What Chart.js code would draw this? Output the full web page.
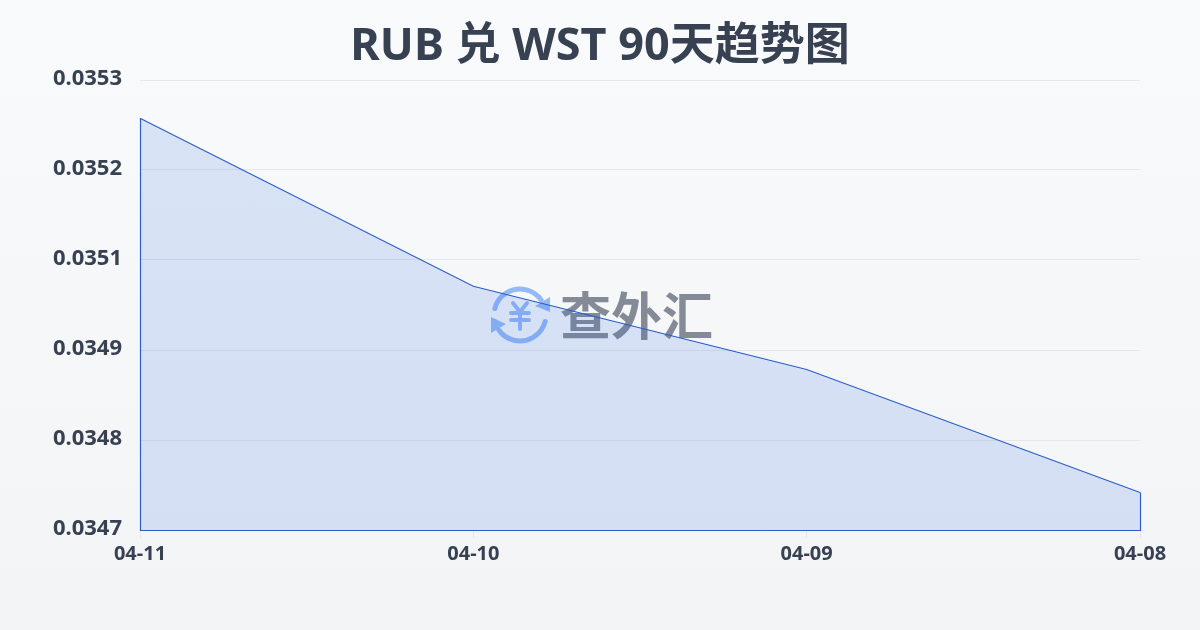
<!DOCTYPE html>
<html>
<head>
<meta charset="utf-8">
<style>
html, body { margin: 0; padding: 0; }
body { width: 1200px; height: 630px; overflow: hidden; background: linear-gradient(180deg, #f8fafc 0%, #f3f4f6 100%); }
#wrap { position: relative; width: 1200px; height: 630px; }
</style>
<script src="https://cdn.jsdelivr.net/npm/chart.js@4"></script>
</head>
<body>
<div id="wrap"><canvas id="myChart" width="1200" height="630"></canvas></div>
<script>
'use strict';

var dates = ['04-11', '04-10', '04-09', '04-08'];
var rates = [0.035249, 0.035025, 0.034914, 0.03475];
var yTicks = [0.0347, 0.03482, 0.03494, 0.03506, 0.03518, 0.0353];
var titleText = 'RUB 兑 WST 90天趋势图';
var watermarkText = '查外汇';

var fontFamily = '"Noto Sans", "Noto Sans CJK SC", sans-serif';
var textColor = '#374151';
var lineColor = '#2a5fcb';

// title is centred on the whole canvas, the plot is not
var titlePlugin = {
  id: 'pageTitle',
  afterDraw: function (chart) {
    var ctx = chart.ctx;
    ctx.save();
    ctx.fillStyle = textColor;
    ctx.font = 'bold 45px ' + fontFamily;
    ctx.textAlign = 'center';
    ctx.textBaseline = 'middle';
    ctx.fillText(titleText, chart.width / 2, 47);
    ctx.restore();
  }
};

// outline down the sides and along the bottom of the area
var outlinePlugin = {
  id: 'outline',
  afterDatasetsDraw: function (chart) {
    var pts = chart.getDatasetMeta(0).data;
    var first = pts[0];
    var last = pts[pts.length - 1];
    var base = chart.scales.y.getPixelForValue(yTicks[0]);
    var ctx = chart.ctx;
    ctx.save();
    ctx.strokeStyle = lineColor;
    ctx.lineWidth = 1.2;
    ctx.beginPath();
    ctx.moveTo(first.x + 0.5, first.y);
    ctx.lineTo(first.x + 0.5, base + 0.5);
    ctx.lineTo(last.x + 0.5, base + 0.5);
    ctx.lineTo(last.x + 0.5, last.y);
    ctx.stroke();
    ctx.restore();
  }
};

// logo and name in the middle of the plot, under the line
var watermarkPlugin = {
  id: 'watermark',
  beforeDatasetsDraw: function (chart) {
    var ctx = chart.ctx;
    var cx = 520;
    var cy = 315;
    ctx.save();
    ctx.strokeStyle = '#93b9f6';
    ctx.fillStyle = '#93b9f6';
    ctx.lineWidth = 5;
    ctx.lineCap = 'round';
    ctx.beginPath();
    ctx.arc(cx, cy, 26, Math.PI * 1.08, Math.PI * 1.8);
    ctx.stroke();
    ctx.beginPath();
    ctx.arc(cx, cy, 26, Math.PI * 0.08, Math.PI * 0.8);
    ctx.stroke();
    ctx.beginPath();
    ctx.moveTo(550, 297);
    ctx.lineTo(550, 312);
    ctx.lineTo(535, 306);
    ctx.closePath();
    ctx.fill();
    ctx.beginPath();
    ctx.moveTo(491, 317);
    ctx.lineTo(506, 324);
    ctx.lineTo(491, 333);
    ctx.closePath();
    ctx.fill();
    // yen sign
    ctx.lineWidth = 4;
    ctx.beginPath();
    ctx.moveTo(513, 303);
    ctx.lineTo(520, 312);
    ctx.lineTo(527, 303);
    ctx.moveTo(520, 312);
    ctx.lineTo(520, 329);
    ctx.moveTo(511, 313);
    ctx.lineTo(529, 313);
    ctx.moveTo(511, 320);
    ctx.lineTo(529, 320);
    ctx.stroke();
    ctx.fillStyle = '#858b96';
    ctx.font = 'bold 51px "Noto Sans CJK SC", sans-serif';
    ctx.textAlign = 'left';
    ctx.textBaseline = 'middle';
    ctx.fillText(watermarkText, 560, 316);
    ctx.restore();
  }
};

var ctx = document.getElementById('myChart');
var myChart = new Chart(ctx, {
  type: 'line',
  data: {
    labels: dates,
    datasets: [{
      data: rates,
      borderColor: lineColor,
      borderWidth: 1.2,
      backgroundColor: 'rgba(37, 99, 220, 0.15)',
      fill: 'origin',
      tension: 0,
      pointRadius: 0
    }]
  },
  plugins: [watermarkPlugin, outlinePlugin, titlePlugin],
  options: {
    responsive: false,
    animation: false,
    layout: { padding: { top: 80, right: 60, bottom: 0, left: 0 } },
    plugins: {
      legend: { display: false },
      tooltip: { enabled: false },
      title: { display: false }
    },
    scales: {
      x: {
        grid: { drawOnChartArea: false, drawTicks: true, tickLength: 8, color: '#e5e7eb' },
        border: { display: false },
        ticks: {
          color: textColor,
          font: { family: fontFamily, size: 20, weight: 'bold' },
          padding: 4,
          maxRotation: 0,
          autoSkip: false
        },
        afterFit: function (axis) { axis.height = 100; }
      },
      y: {
        min: yTicks[0],
        max: yTicks[yTicks.length - 1],
        afterBuildTicks: function (axis) {
          axis.ticks = yTicks.map(function (v) { return { value: v }; });
        },
        grid: { drawTicks: false, color: '#e5e7eb' },
        border: { display: false },
        ticks: {
          color: textColor,
          font: { family: fontFamily, size: 22, weight: 'bold' },
          padding: 18,
          labelOffset: -1,
          callback: function (v) { return v.toFixed(4); }
        },
        afterFit: function (axis) { axis.width = 140; }
      }
    }
  }
});
</script>
</body>
</html>
